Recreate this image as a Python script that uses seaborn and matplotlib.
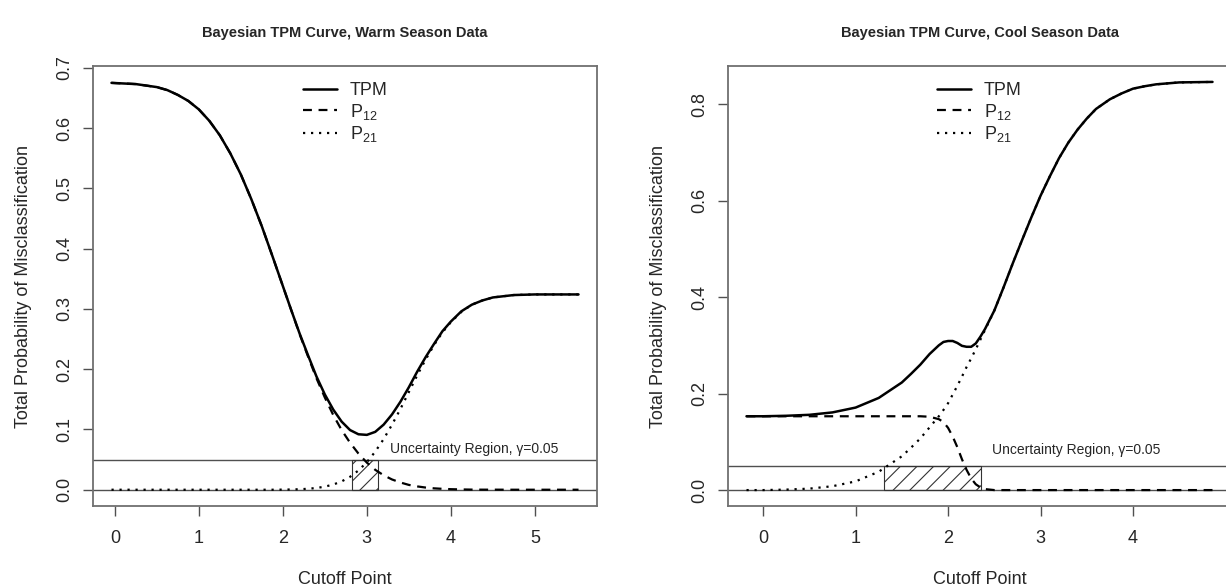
import numpy as np
import pandas as pd
import matplotlib
matplotlib.use("Agg")
import matplotlib.pyplot as plt
from matplotlib.patches import Rectangle
import seaborn as sns

# warm season curves
warm_x = [-0.04, 0.25, 0.5, 0.625, 0.75, 0.875, 1.0, 1.125, 1.25, 1.375, 1.5, 1.625, 1.75,
          1.875, 2.0, 2.1, 2.2, 2.3, 2.4, 2.5, 2.6, 2.7, 2.8, 2.9, 3.0, 3.1, 3.2, 3.3,
          3.4, 3.5, 3.6, 3.7, 3.8, 3.9, 4.0, 4.125, 4.25, 4.375, 4.5, 4.75, 5.0, 5.25, 5.52]
warm_p12 = [0.675, 0.673, 0.668, 0.663, 0.655, 0.645, 0.631, 0.612, 0.588, 0.558, 0.523,
            0.482, 0.437, 0.388, 0.338, 0.298, 0.258, 0.221, 0.185, 0.153, 0.124, 0.099,
            0.078, 0.060, 0.045, 0.033, 0.024, 0.017, 0.012, 0.008, 0.0055, 0.0036,
            0.0023, 0.0015, 0.0009, 0.0005, 0.0002, 0.0001, 0.0001, 0.0, 0.0, 0.0, 0.0]
warm_p21 = [0.0, 0.0, 0.0, 0.0, 0.0, 0.0, 0.0, 0.0, 0.0, 0.0, 0.0, 0.0, 0.0, 0.0, 0.0002,
            0.0004, 0.0008, 0.0016, 0.0029, 0.0051, 0.0086, 0.0138, 0.0214, 0.0319,
            0.0457, 0.0632, 0.084, 0.108, 0.134, 0.162, 0.190, 0.216, 0.240, 0.261, 0.278,
            0.295, 0.307, 0.314, 0.319, 0.323, 0.324, 0.324, 0.324]
warm_tpm = [0.675, 0.673, 0.668, 0.663, 0.655, 0.645, 0.631, 0.612, 0.588, 0.558, 0.523,
            0.482, 0.437, 0.388, 0.338, 0.298, 0.259, 0.223, 0.188, 0.158, 0.133, 0.113,
            0.099, 0.092, 0.091, 0.096, 0.108, 0.125, 0.146, 0.170, 0.196, 0.220, 0.242,
            0.263, 0.279, 0.296, 0.307, 0.314, 0.319, 0.323, 0.324, 0.324, 0.324]
warm_region = [2.82, 3.13]

# cool season curves
cool_x = [-0.18, 0.0, 0.25, 0.5, 0.75, 1.0, 1.25, 1.5, 1.6, 1.7, 1.8, 1.9, 1.95, 2.0,
          2.05, 2.1, 2.15, 2.2, 2.25, 2.3, 2.35, 2.4, 2.5, 2.6, 2.7, 2.8, 2.9, 3.0, 3.1,
          3.2, 3.3, 3.4, 3.5, 3.6, 3.75, 3.875, 4.0, 4.125, 4.25, 4.5, 4.86]
cool_p12 = [0.153, 0.153, 0.153, 0.153, 0.153, 0.153, 0.153, 0.153, 0.153, 0.153, 0.152,
            0.147, 0.141, 0.129, 0.111, 0.089, 0.064, 0.042, 0.024, 0.012, 0.0055, 0.002,
            0.0, 0.0, 0.0, 0.0, 0.0, 0.0, 0.0, 0.0, 0.0, 0.0, 0.0, 0.0, 0.0, 0.0, 0.0,
            0.0, 0.0, 0.0, 0.0]
cool_p21 = [0.0, 0.0, 0.001, 0.003, 0.008, 0.018, 0.038, 0.070, 0.088, 0.107, 0.130,
            0.153, 0.166, 0.180, 0.198, 0.216, 0.235, 0.255, 0.273, 0.292, 0.312, 0.332,
            0.372, 0.420, 0.470, 0.518, 0.565, 0.610, 0.650, 0.688, 0.720, 0.747, 0.770,
            0.790, 0.810, 0.822, 0.832, 0.837, 0.841, 0.845, 0.846]
cool_tpm = [0.153, 0.153, 0.154, 0.156, 0.161, 0.171, 0.191, 0.223, 0.241, 0.260, 0.282,
            0.300, 0.307, 0.309, 0.309, 0.305, 0.299, 0.297, 0.297, 0.304, 0.318, 0.334,
            0.372, 0.420, 0.470, 0.518, 0.565, 0.610, 0.650, 0.688, 0.720, 0.747, 0.770,
            0.790, 0.810, 0.822, 0.832, 0.837, 0.841, 0.845, 0.846]
cool_region = [1.31, 2.36]

gamma = 0.05

sns.set_style("ticks")
plt.rcParams["font.family"] = ["Liberation Sans", "DejaVu Sans"]
plt.rcParams["mathtext.fontset"] = "custom"
plt.rcParams["mathtext.rm"] = "Liberation Sans"
plt.rcParams["mathtext.it"] = "Liberation Sans:italic"
plt.rcParams["hatch.linewidth"] = 0.8

fig = plt.figure(figsize=(12.26, 5.87), dpi=100)
ax1 = fig.add_axes([93 / 1226, 81 / 587, 504 / 1226, 440 / 587])
ax2 = fig.add_axes([728 / 1226, 81 / 587, 503 / 1226, 440 / 587])


def draw_panel(ax, x, tpm, p12, p21, region, title, xlim, ylim, xticks, yticks, txt_xy):
    df = pd.DataFrame({"x": x, "tpm": tpm, "p12": p12, "p21": p21})
    ax.axhline(0, color="#505050", lw=1.0, zorder=1)
    ax.axhline(gamma, color="#505050", lw=1.0, zorder=1)
    ax.add_patch(Rectangle((region[0], 0), region[1] - region[0], gamma, fill=False,
                           hatch="//", edgecolor="#333333", lw=0.8, zorder=2))
    sns.lineplot(data=df, x="x", y="tpm", ax=ax, color="black", lw=1.8, label="TPM")
    sns.lineplot(data=df, x="x", y="p12", ax=ax, color="black", lw=1.6,
                 linestyle=(0, (4, 3)), label="P$_{12}$")
    sns.lineplot(data=df, x="x", y="p21", ax=ax, color="black", lw=1.6,
                 linestyle=(0, (1, 2.6)), label="P$_{21}$")
    ax.text(txt_xy[0], txt_xy[1], "Uncertainty Region, γ=0.05", fontsize=10,
            ha="left", va="center")
    ax.set_xlim(xlim)
    ax.set_ylim(ylim)
    ax.set_xticks(xticks)
    ax.set_yticks(yticks)
    ax.set_yticklabels([f"{v:.1f}" for v in yticks])
    plt.setp(ax.get_yticklabels(), rotation=90, va="center")
    ax.tick_params(direction="out", length=7, width=1, color="#505050", labelsize=13)
    ax.tick_params(axis="x", pad=10)
    ax.tick_params(axis="y", pad=7)
    for s in ax.spines.values():
        s.set_visible(True)
        s.set_color("#707070")
        s.set_linewidth(1.3)
    ax.set_title(title, fontsize=10.5, fontweight="bold", pad=21)
    ax.set_xlabel("Cutoff Point", fontsize=13)
    ax.set_ylabel("Total Probability of Misclassification", fontsize=13)
    ax.xaxis.set_label_coords(0.5, -0.148)
    ax.yaxis.set_label_coords(-0.122, 0.5)
    ax.legend(loc="upper center", bbox_to_anchor=(0.5, 1.0), frameon=False,
              fontsize=13, handlelength=1.9, handletextpad=0.7, labelspacing=0.13)


draw_panel(ax1, warm_x, warm_tpm, warm_p12, warm_p21, warm_region,
           "Bayesian TPM Curve, Warm Season Data", (-0.26, 5.74), (-0.027, 0.703),
           [0, 1, 2, 3, 4, 5], [0.0, 0.1, 0.2, 0.3, 0.4, 0.5, 0.6, 0.7], (3.27, 0.068))
draw_panel(ax2, cool_x, cool_tpm, cool_p12, cool_p21, cool_region,
           "Bayesian TPM Curve, Cool Season Data", (-0.38, 5.06), (-0.033, 0.879),
           [0, 1, 2, 3, 4], [0.0, 0.2, 0.4, 0.6, 0.8], (2.47, 0.083))

fig.savefig("out.png", dpi=100)
